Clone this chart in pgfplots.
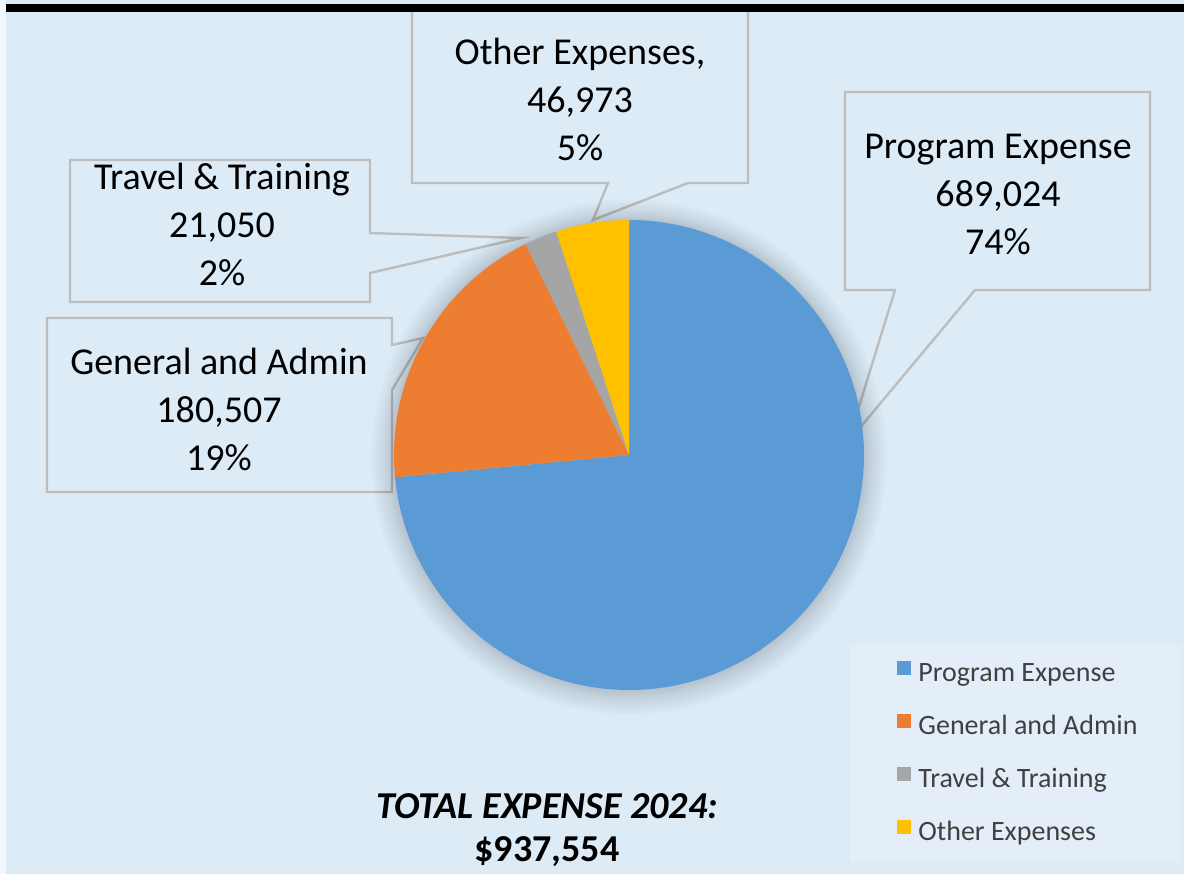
\documentclass[border=0pt]{standalone}
\usepackage{pgfplots}
\pgfplotsset{compat=1.18}
\usepackage{pgfplotstable}
\usepackage{fontspec}
\setmainfont{Carlito}
\definecolor{bg}{HTML}{DDEBF7}
\definecolor{legbg}{HTML}{E3EEF8}
\definecolor{pblue}{HTML}{5B9BD5}
\definecolor{porange}{HTML}{ED7D31}
\definecolor{pgray}{HTML}{A5A5A5}
\definecolor{pyellow}{HTML}{FFC000}
\definecolor{boxline}{HTML}{BDBDBD}
\definecolor{legtext}{HTML}{404040}

\pgfplotstableread{
value
689024
180507
21050
46973
}\expenses
\pgfplotstablegetelem{0}{value}\of\expenses \edef\vA{\pgfplotsretval}
\pgfplotstablegetelem{1}{value}\of\expenses \edef\vB{\pgfplotsretval}
\pgfplotstablegetelem{2}{value}\of\expenses \edef\vC{\pgfplotsretval}
\pgfplotstablegetelem{3}{value}\of\expenses \edef\vD{\pgfplotsretval}
\edef\total{\fpeval{\vA+\vB+\vC+\vD}}
\edef\aA{90}
\edef\aB{\fpeval{round(90-360*\vA/\total,4)}}
\edef\aC{\fpeval{round(\aB-360*\vB/\total,4)}}
\edef\aD{\fpeval{round(\aC-360*\vC/\total,4)}}
\edef\aE{\fpeval{round(\aD-360*\vD/\total,4)}}
\newcommand\lbl{\fontsize{19}{24}\selectfont}

\begin{document}
\begin{tikzpicture}
\fill[bg] (0,0) rectangle (592pt,437pt);
\begin{axis}[
  at={(0,0)}, anchor=south west,
  width=592pt, height=437pt, scale only axis,
  xmin=0, xmax=1184, ymin=0, ymax=874, y dir=reverse,
  hide axis, clip=false,
  legend style={at={(axis cs:897,661)}, anchor=north west, draw=none, fill=none,
    inner sep=0pt, row sep=13.5pt, column sep=3.5pt,
    font=\fontsize{14}{16}\selectfont, text=legtext,
    nodes={inner sep=0pt, text height=10pt, text depth=3pt}},
  legend cell align=left,
  legend image code/.code={\fill[#1] (0pt,-0.5pt) rectangle (7pt,6.5pt);},
]
% white edge strip and black bar
\fill[white!60!bg] (axis cs:0,0) rectangle (axis cs:6,874);
\fill[black] (axis cs:6,4) rectangle (axis cs:1184,12);
% legend background
\fill[legbg] (axis cs:850,645) rectangle (axis cs:1180,862);
% callouts
\draw[boxline, line width=1.2pt, fill=bg] (axis cs:412,12) -- (axis cs:412,183) -- (axis cs:608,183) -- (axis cs:593,220) -- (axis cs:688,183) -- (axis cs:748,183) -- (axis cs:748,12);
\draw[boxline, line width=1.2pt, fill=bg] (axis cs:70,160) -- (axis cs:370,160) -- (axis cs:370,233) -- (axis cs:521,238) -- (axis cs:370,273) -- (axis cs:370,302) -- (axis cs:70,302) -- cycle;
\draw[boxline, line width=1.2pt, fill=bg] (axis cs:47,318) -- (axis cs:392,318) -- (axis cs:392,345) -- (axis cs:423,338) -- (axis cs:392,390) -- (axis cs:392,492) -- (axis cs:47,492) -- cycle;
\draw[boxline, line width=1.2pt, fill=bg] (axis cs:845,92) -- (axis cs:1150,92) -- (axis cs:1150,290) -- (axis cs:975,290) -- (axis cs:848,442) -- (axis cs:895,290) -- (axis cs:845,290) -- cycle;
% soft shadow around pie
\fill[black, opacity=0.01] (axis cs:629,457) circle[radius=129pt];
\fill[black, opacity=0.01] (axis cs:629,457) circle[radius=128pt];
\fill[black, opacity=0.01] (axis cs:629,457) circle[radius=127pt];
\fill[black, opacity=0.01] (axis cs:629,457) circle[radius=126pt];
\fill[black, opacity=0.01] (axis cs:629,457) circle[radius=125pt];
\fill[black, opacity=0.012] (axis cs:629,457) circle[radius=124pt];
\fill[black, opacity=0.012] (axis cs:629,457) circle[radius=123pt];
\fill[black, opacity=0.012] (axis cs:629,456) circle[radius=122pt];
\fill[black, opacity=0.014] (axis cs:629,456) circle[radius=121pt];
\fill[black, opacity=0.014] (axis cs:629,456) circle[radius=120pt];
\fill[black, opacity=0.016] (axis cs:629,456) circle[radius=119pt];
\fill[black, opacity=0.016] (axis cs:629,455) circle[radius=118.3pt];
% pie slices
\addplot[draw=none, fill=pblue, domain=\aB:\aA, samples=200] ({629+235*cos(x)},{455-235*sin(x)}) -- (axis cs:629,455) -- cycle;
\addlegendentry{Program Expense}
\addplot[draw=none, fill=porange, domain=\aC:\aB, samples=80] ({629+235*cos(x)},{455-235*sin(x)}) -- (axis cs:629,455) -- cycle;
\addlegendentry{General and Admin}
\addplot[draw=none, fill=pgray, domain=\aD:\aC, samples=20] ({629+235*cos(x)},{455-235*sin(x)}) -- (axis cs:629,455) -- cycle;
\addlegendentry{Travel \& Training}
\addplot[draw=none, fill=pyellow, domain=\aE:\aD, samples=30] ({629+235*cos(x)},{455-235*sin(x)}) -- (axis cs:629,455) -- cycle;
\addlegendentry{Other Expenses}
% labels
\node[align=center, font=\lbl] at (axis cs:580,99) {Other Expenses,\\46,973\\5\%};
\node[align=center, font=\lbl] at (axis cs:222,224) {Travel \& Training\\21,050\\2\%};
\node[align=center, font=\lbl] at (axis cs:219,409) {General and Admin\\180,507\\19\%};
\node[align=center, font=\lbl] at (axis cs:998,194) {Program Expense\\689,024\\74\%};
% total
\node[font=\lbl\bfseries\itshape] at (axis cs:547,806) {TOTAL EXPENSE 2024:};
\node[font=\lbl\bfseries] at (axis cs:547,852) {\$937,554};
\end{axis}
\end{tikzpicture}
\end{document}
